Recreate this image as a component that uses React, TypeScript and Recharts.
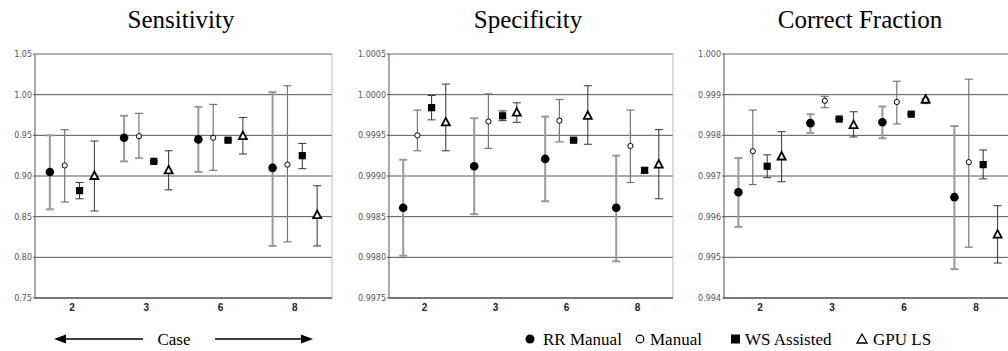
import React from 'react';
import { ScatterChart, Scatter, XAxis, YAxis, CartesianGrid, ErrorBar, ReferenceLine } from 'recharts';

// cases on the x axis
const cases = ['2', '3', '6', '8'];
const seriesNames = ['RR Manual', 'Manual', 'WS Assisted', 'GPU LS'];

// each entry: [low, mean, high] per case
const sensRR = [[0.859, 0.905, 0.950], [0.918, 0.947, 0.974], [0.905, 0.945, 0.985], [0.814, 0.910, 1.003]];
const sensManual = [[0.868, 0.913, 0.957], [0.922, 0.949, 0.977], [0.907, 0.947, 0.988], [0.819, 0.914, 1.011]];
const sensWS = [[0.872, 0.882, 0.892], [0.917, 0.918, 0.919], [0.943, 0.944, 0.945], [0.909, 0.925, 0.940]];
const sensGPU = [[0.857, 0.900, 0.943], [0.883, 0.907, 0.931], [0.927, 0.949, 0.972], [0.814, 0.852, 0.888]];

const specRR = [[0.99802, 0.99861, 0.99920], [0.99853, 0.99912, 0.99971], [0.99869, 0.99921, 0.99973], [0.99795, 0.99861, 0.99925]];
const specManual = [[0.99931, 0.99950, 0.99981], [0.99934, 0.99967, 1.00001], [0.99942, 0.99968, 0.99994], [0.99892, 0.99937, 0.99981]];
const specWS = [[0.99969, 0.99984, 0.99999], [0.99968, 0.99974, 0.99980], [0.99943, 0.99944, 0.99945], [0.99904, 0.99907, 0.99910]];
const specGPU = [[0.99931, 0.99966, 1.00013], [0.99966, 0.99978, 0.99990], [0.99939, 0.99974, 1.00011], [0.99872, 0.99914, 0.99957]];

const cfRR = [[0.99575, 0.99660, 0.99744], [0.99806, 0.99830, 0.99852], [0.99793, 0.99832, 0.99871], [0.99471, 0.99648, 0.99823]];
const cfManual = [[0.99679, 0.99761, 0.99862], [0.99868, 0.99885, 0.99896], [0.99828, 0.99882, 0.99933], [0.99525, 0.99734, 0.99938]];
const cfWS = [[0.99696, 0.99724, 0.99752], [0.99839, 0.99840, 0.99841], [0.99851, 0.99852, 0.99853], [0.99693, 0.99728, 0.99764]];
const cfGPU = [[0.99686, 0.99748, 0.99809], [0.99796, 0.99825, 0.99858], [0.99878, 0.99888, 0.99890], [0.99486, 0.99556, 0.99627]];

const sensTicks = [0.75, 0.8, 0.85, 0.9, 0.95, 1.0, 1.05];
const specTicks = [0.9975, 0.998, 0.9985, 0.999, 0.9995, 1.0, 1.0005];
const cfTicks = [0.994, 0.995, 0.996, 0.997, 0.998, 0.999, 1.0];

const seriesOffset = [-0.3, -0.1, 0.1, 0.3];
const barStyle = [
  { stroke: '#999', strokeWidth: 2 },
  { stroke: '#777', strokeWidth: 1.2 },
  { stroke: '#333', strokeWidth: 1 },
  { stroke: '#333', strokeWidth: 1 },
];

const toPoints = (rows: number[][], s: number) =>
  rows.map(([lo, mean, hi], i) => ({ x: i + 0.5 + seriesOffset[s], y: mean, err: [mean - lo, hi - mean] }));

const RRShape = (p: any) => <circle cx={p.cx} cy={p.cy} r={4.3} fill="#000" />;
const ManualShape = (p: any) => <circle cx={p.cx} cy={p.cy} r={2.6} fill="#fff" stroke="#000" strokeWidth={1} />;
const WSShape = (p: any) => <rect x={p.cx - 3.6} y={p.cy - 3.6} width={7.2} height={7.2} fill="#000" />;
const GPUShape = (p: any) => (
  <path d={`M${p.cx},${p.cy - 4.5} L${p.cx + 4},${p.cy + 3} L${p.cx - 4},${p.cy + 3} Z`} fill="#fff" stroke="#000" strokeWidth={1.8} />
);
const shapes = [RRShape, ManualShape, WSShape, GPUShape];

type PanelProps = {
  left: number;
  axisWidth: number;
  rightMargin: number;
  series: number[][][];
  ticks: number[];
  digits: number;
};

const Panel = ({ left, axisWidth, rightMargin, series, ticks, digits }: PanelProps) => (
  <div style={{ position: 'absolute', left, top: 0 }}>
    <ScatterChart width={340} height={351} margin={{ top: 54, right: rightMargin, bottom: 33, left: 0 }}>
      <CartesianGrid vertical={false} stroke="#555" />
      <XAxis
        type="number"
        dataKey="x"
        domain={[0, 4]}
        ticks={[0.5, 1.5, 2.5, 3.5]}
        tickFormatter={(v: number) => cases[Math.floor(v)]}
        tickLine={false}
        tickSize={0}
        tickMargin={6}
        height={20}
        stroke="#444"
        tick={{ fontFamily: 'Liberation Sans, Arial', fontSize: 10, fontWeight: 'bold', fill: '#222' }}
        allowDataOverflow
      />
      <YAxis
        type="number"
        dataKey="y"
        domain={[ticks[0], ticks[ticks.length - 1]]}
        ticks={ticks}
        interval={0}
        width={axisWidth}
        tickSize={2}
        tickMargin={1}
        stroke="#555"
        tickFormatter={(v: number) => v.toFixed(digits)}
        tick={{ fontFamily: 'DejaVu Sans', fontSize: 8, fill: '#555' }}
        allowDataOverflow
      />
      <ReferenceLine y={ticks[ticks.length - 1]} stroke="#bbb" />
      <ReferenceLine x={4} stroke="#bbb" />
      {series.map((rows, s) => (
        <Scatter key={s} name={seriesNames[s]} data={toPoints(rows, s)} shape={shapes[s]} isAnimationActive={false}>
          <ErrorBar dataKey="err" direction="y" width={4} stroke={barStyle[s].stroke} strokeWidth={barStyle[s].strokeWidth} />
        </Scatter>
      ))}
    </ScatterChart>
  </div>
);

const serif = 'Liberation Serif, Times New Roman, serif';

const App = () => {
  return (
    <div style={{ position: 'fixed', left: 0, top: 0, width: 1008, height: 351, overflow: 'hidden', background: '#fff' }}>
      <Panel left={0} axisWidth={35} rightMargin={8} series={[sensRR, sensManual, sensWS, sensGPU]} ticks={sensTicks} digits={2} />
      <Panel left={340} axisWidth={49} rightMargin={7} series={[specRR, specManual, specWS, specGPU]} ticks={specTicks} digits={4} />
      <Panel left={680} axisWidth={44} rightMargin={8} series={[cfRR, cfManual, cfWS, cfGPU]} ticks={cfTicks} digits={3} />
      <svg width={1008} height={351} style={{ position: 'absolute', left: 0, top: 0, pointerEvents: 'none' }}>
        <g fontFamily={serif} fontSize={25} fill="#000" textAnchor="middle">
          <text x={181} y={28}>Sensitivity</text>
          <text x={528} y={28}>Specificity</text>
          <text x={860} y={28}>Correct Fraction</text>
        </g>
        {/* Case arrows */}
        <line x1={64} y1={339} x2={143} y2={339} stroke="#000" strokeWidth={1.3} />
        <path d="M54,339 L66,334.5 L66,343.5 Z" fill="#000" />
        <line x1={215} y1={339} x2={302} y2={339} stroke="#000" strokeWidth={1.3} />
        <path d="M313,339 L301,334.5 L301,343.5 Z" fill="#000" />
        <text x={174} y={345} fontFamily={serif} fontSize={17} textAnchor="middle">Case</text>
        {/* legend */}
        <g fontFamily={serif} fontSize={17} fill="#000">
          <circle cx={530} cy={339} r={4.5} fill="#000" />
          <text x={543} y={345}>{seriesNames[0]}</text>
          <circle cx={640} cy={339} r={3.8} fill="#fff" stroke="#000" strokeWidth={1.2} />
          <text x={650} y={345}>{seriesNames[1]}</text>
          <rect x={731} y={334.5} width={9} height={9} fill="#000" />
          <text x={745} y={345}>{seriesNames[2]}</text>
          <path d="M862,334 L867,343 L857,343 Z" fill="#fff" stroke="#000" strokeWidth={1.3} />
          <text x={873} y={345}>{seriesNames[3]}</text>
        </g>
      </svg>
    </div>
  );
};

export default App;
